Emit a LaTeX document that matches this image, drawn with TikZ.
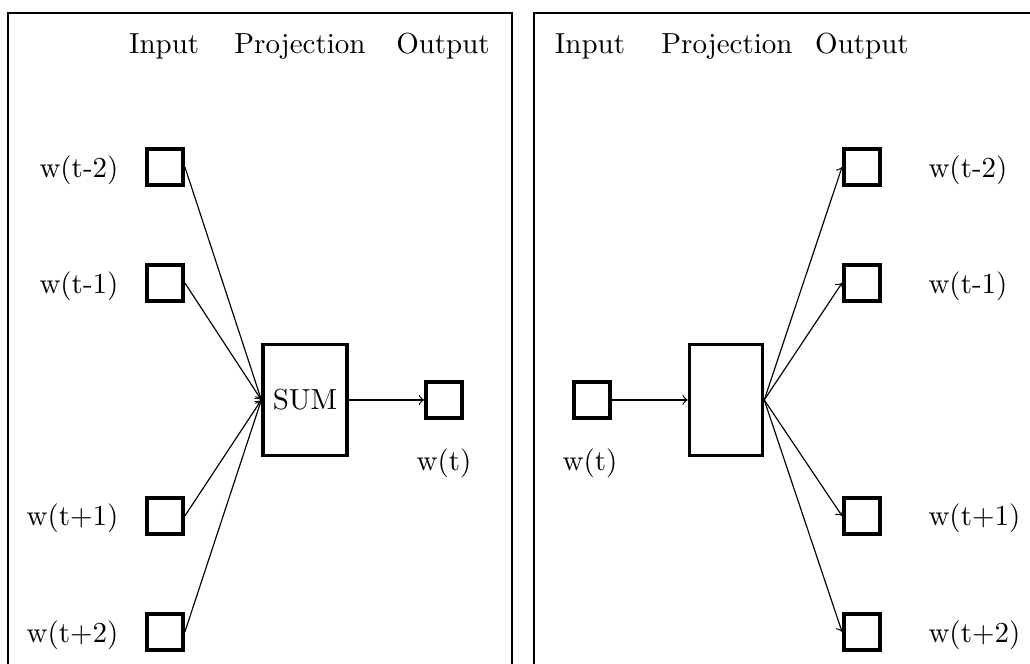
\documentclass[tikz,border=0pt]{standalone}
\usepackage{tikz}

\begin{document}
\begin{tikzpicture}[
    wordbox/.style={draw, very thick, minimum size=0.44cm, inner sep=0pt},
    projbox/.style={draw, very thick, minimum width=0.885cm, minimum height=1.35cm}
]
    % 画布大小与裁剪
    \clip (0,0) rectangle (12.485,8.048);

    % 两个外框
    \draw (0.097,-0.5) rectangle (6.206,7.891);
    \draw (6.473,-0.5) rectangle (13,7.891);

    % 左图 (CBOW) 表头
    \node[anchor=base] at (1.99,7.40) {Input};
    \node[anchor=base] at (3.636,7.40) {Projection};
    \node[anchor=base] at (5.37,7.40) {Output};

    % 左图输入词
    \node[wordbox] (cbow_in_m2) at (2.0,6.024) {};
    \node[wordbox] (cbow_in_m1) at (2.0,4.618) {};
    \node[wordbox] (cbow_in_p1) at (2.0,1.794) {};
    \node[wordbox] (cbow_in_p2) at (2.0,0.388) {};
    \node[left] at (1.56,5.99) {w(t-2)};
    \node[left] at (1.56,4.58) {w(t-1)};
    \node[left] at (1.56,1.76) {w(t+1)};
    \node[left] at (1.56,0.35) {w(t+2)};

    % 左图投影层与输出
    \node[projbox] (cbow_sum) at (3.697,3.2) {SUM};
    \node[wordbox] (cbow_out) at (5.382,3.2) {};
    \node[anchor=base] at (5.382,2.35) {w(t)};

    % 左图连线
    \draw[->] (cbow_in_m2.east) -- (cbow_sum.west);
    \draw[->] (cbow_in_m1.east) -- (cbow_sum.west);
    \draw[->] (cbow_in_p1.east) -- (cbow_sum.west);
    \draw[->] (cbow_in_p2.east) -- (cbow_sum.west);
    \draw[->] (cbow_sum) -- (cbow_out);

    % 右图 (Skip-gram) 表头
    \node[anchor=base] at (7.152,7.40) {Input};
    \node[anchor=base] at (8.812,7.40) {Projection};
    \node[anchor=base] at (10.448,7.40) {Output};

    % 右图输入与投影层
    \node[wordbox] (sg_in) at (7.176,3.2) {};
    \node[anchor=base] at (7.152,2.35) {w(t)};
    \node[projbox] (sg_proj) at (8.8,3.2) {};

    % 右图输出词
    \node[wordbox] (sg_out_m2) at (10.448,6.024) {};
    \node[wordbox] (sg_out_m1) at (10.448,4.618) {};
    \node[wordbox] (sg_out_p1) at (10.448,1.794) {};
    \node[wordbox] (sg_out_p2) at (10.448,0.388) {};
    \node[right] at (11.131,5.99) {w(t-2)};
    \node[right] at (11.131,4.58) {w(t-1)};
    \node[right] at (11.131,1.76) {w(t+1)};
    \node[right] at (11.131,0.35) {w(t+2)};

    % 右图连线
    \draw[->] (sg_in) -- (sg_proj);
    \draw[->] (sg_proj.east) -- (sg_out_m2.west);
    \draw[->] (sg_proj.east) -- (sg_out_m1.west);
    \draw[->] (sg_proj.east) -- (sg_out_p1.west);
    \draw[->] (sg_proj.east) -- (sg_out_p2.west);
\end{tikzpicture}
\end{document}
